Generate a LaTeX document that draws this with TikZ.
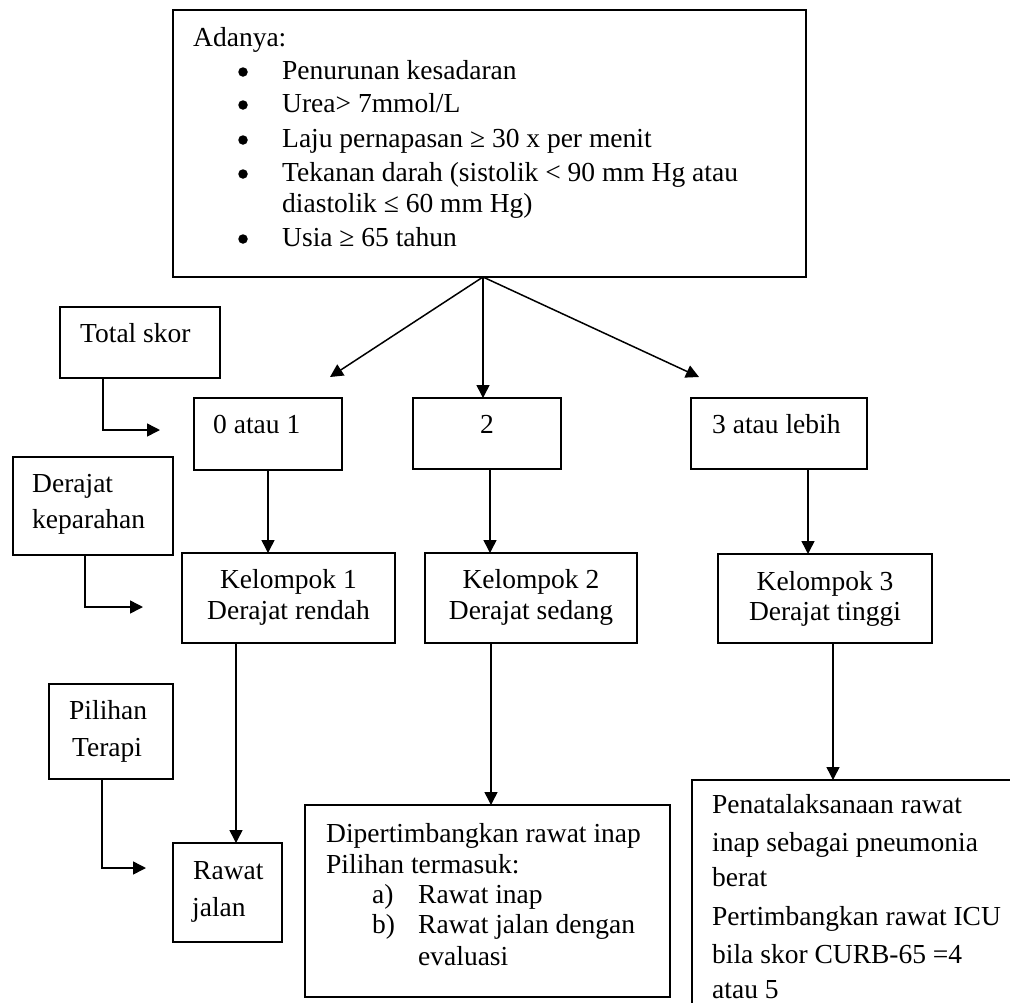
\documentclass[tikz,border=0pt]{standalone}
\usepackage{fontspec}
\setmainfont{Liberation Serif}
\usetikzlibrary{arrows.meta}
\begin{document}
\begin{tikzpicture}[x=1pt,y=-1pt,
  box/.style={draw, line width=1.8pt, inner sep=0pt, outer sep=0pt, anchor=north west},
  txt/.style={anchor=base west, inner sep=0pt, font=\fontsize{27.5}{33}\selectfont},
  ctxt/.style={anchor=base, inner sep=0pt, font=\fontsize{27.5}{33}\selectfont},
  bul/.style={circle, fill=black, inner sep=0pt, minimum size=9.5pt},
  conn/.style={line width=1.5pt, -{Triangle[length=13pt,width=13pt]}}]
\useasboundingbox (0,0) rectangle (1010,1002);
\clip (0,0) rectangle (1010,1002);
\fill[white] (0,0) rectangle (1010,1002);

% boxes
\node[box, minimum width=633pt, minimum height=267pt] (top) at (173,10) {};
\node[box, minimum width=160pt, minimum height=71pt] (ts) at (60,307) {};
\node[box, minimum width=160pt, minimum height=98pt] (dk) at (13,457) {};
\node[box, minimum width=124pt, minimum height=95pt] (pl) at (49,684) {};
\node[box, minimum width=148pt, minimum height=72pt] (s0) at (194,398) {};
\node[box, minimum width=148pt, minimum height=71pt] (s2) at (413,398) {};
\node[box, minimum width=176pt, minimum height=71pt] (s3) at (691,398) {};
\node[box, minimum width=213pt, minimum height=90pt] (k1) at (182,553) {};
\node[box, minimum width=212pt, minimum height=90pt] (k2) at (425,553) {};
\node[box, minimum width=214pt, minimum height=89pt] (k3) at (718,554) {};
\node[box, minimum width=109pt, minimum height=99pt] (rj) at (173,843) {};
\node[box, minimum width=365pt, minimum height=192pt] (dp) at (305,805) {};
\node[box, minimum width=360pt, minimum height=260pt] (pt) at (692,780) {};

% texts
\node[txt] (tA) at (193,46) {Adanya:};
\foreach \y/\n in {72/1,105/2,140/3,174/4,239/5}
  \node[bul] (b\n) at (243,\y) {};
\node[txt] (t1) at (282,79) {Penurunan kesadaran};
\node[txt] (t2) at (282,112) {Urea> 7mmol/L};
\node[txt] (t3) at (282,147) {Laju pernapasan ≥ 30 x per menit};
\node[txt] (t4) at (282,181) {Tekanan darah (sistolik < 90 mm Hg atau};
\node[txt] (t4b) at (282,212) {diastolik ≤ 60 mm Hg)};
\node[txt] (t5) at (282,246) {Usia ≥ 65 tahun};

\node[txt] (tsT) at (80,342) {Total skor};
\node[txt] (dkT1) at (32,492) {Derajat};
\node[txt] (dkT2) at (32,528) {keparahan};
\node[txt] (plT1) at (69,719) {Pilihan};
\node[txt] (plT2) at (72,756) {Terapi};

\node[txt] (s0T) at (213,433) {0 atau 1};
\node[txt] (s2T) at (480,433) {2};
\node[txt] (s3T) at (712,433) {3 atau lebih};

\node[ctxt] (k1T1) at (288.5,588) {Kelompok 1};
\node[ctxt] (k1T2) at (288.5,619) {Derajat rendah};
\node[ctxt] (k2T1) at (531,588) {Kelompok 2};
\node[ctxt] (k2T2) at (531,619) {Derajat sedang};
\node[ctxt] (k3T1) at (825,590) {Kelompok 3};
\node[ctxt] (k3T2) at (825,620) {Derajat tinggi};

\node[txt] (rjT1) at (193,879) {Rawat};
\node[txt] (rjT2) at (192,916) {jalan};

\node[txt] (dpT1) at (326,842) {Dipertimbangkan rawat inap};
\node[txt] (dpT2) at (326,873) {Pilihan termasuk:};
\node[txt] (dpA) at (372,903) {a)};
\node[txt] (dpAT) at (418,903) {Rawat inap};
\node[txt] (dpB) at (372,933) {b)};
\node[txt] (dpBT) at (418,933) {Rawat jalan dengan};
\node[txt] (dpBT2) at (418,965) {evaluasi};

\node[txt] (ptT1) at (712,813) {Penatalaksanaan rawat};
\node[txt] (ptT2) at (712,851) {inap sebagai pneumonia};
\node[txt] (ptT3) at (712,886) {berat};
\node[txt] (ptT4) at (712,925) {Pertimbangkan rawat ICU};
\node[txt] (ptT5) at (712,963) {bila skor CURB-65 =4};
\node[txt] (ptT6) at (712,998) {atau 5};

% connector points
\coordinate (o) at (483,277);
\coordinate (e0) at (330,377);
\coordinate (e3) at (699,377);
\coordinate (tsE) at (160,430);
\coordinate (dkE) at (143,607);
\coordinate (plE) at (146,868);

% connectors
\draw[conn] (o) -- (e0);
\draw[conn] (o) -- (o |- s2.north);
\draw[conn] (o) -- (e3);
\draw[conn] (ts.south west) ++(43,0) |- (tsE);
\draw[conn] (dk.south west) ++(72,0) |- (dkE);
\draw[conn] (pl.south west) ++(53,0) |- (plE);
\draw[conn] (s0.south west) ++(74,0) -- ++(0,83);
\draw[conn] (s2.south west) ++(77,0) -- ++(0,84);
\draw[conn] (s3.south west) ++(117,0) -- ++(0,85);
\draw[conn] (k1.south west) ++(54,0) -- ++(0,200);
\draw[conn] (k2.south west) ++(66,0) -- ++(0,162);
\draw[conn] (k3.south west) ++(115,0) -- ++(0,137);
\end{tikzpicture}
\end{document}
